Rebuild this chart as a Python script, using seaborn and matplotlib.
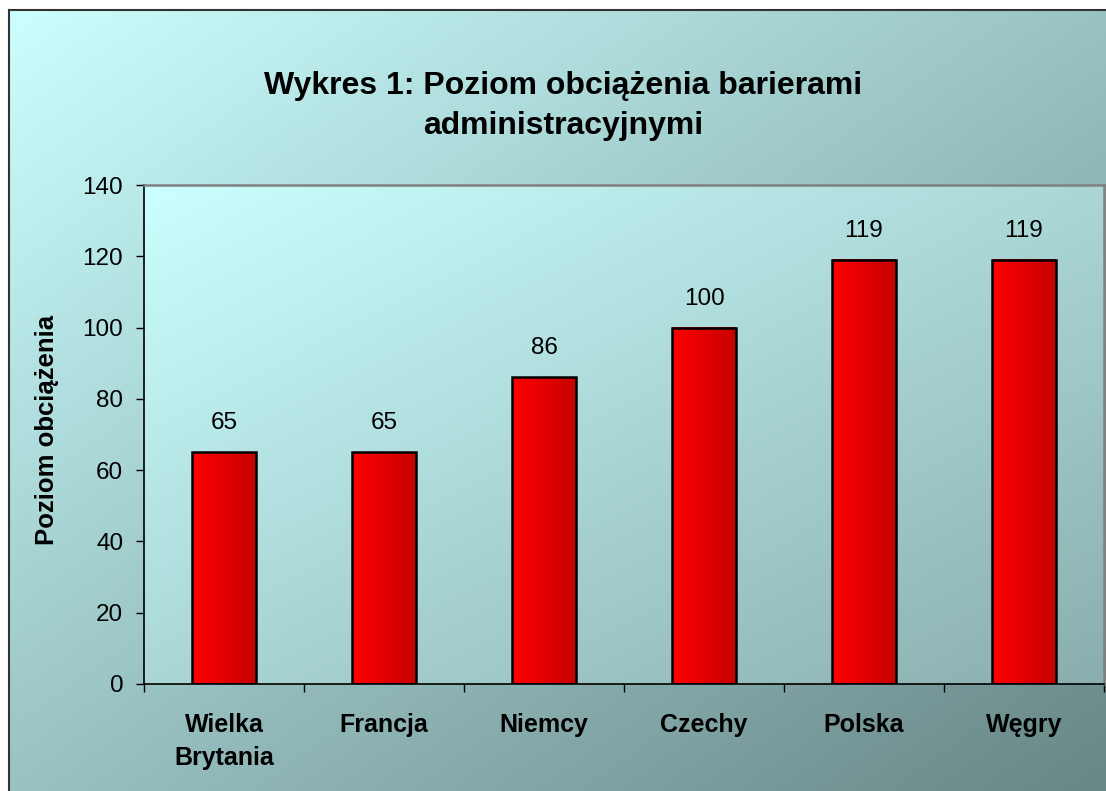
import numpy as np
import matplotlib.pyplot as plt
import seaborn as sns
from matplotlib.lines import Line2D

# data
kraje = ['Wielka\nBrytania', 'Francja', 'Niemcy', 'Czechy', 'Polska', 'Węgry']
poziom = [65, 65, 86, 100, 119, 119]
yticks = [0, 20, 40, 60, 80, 100, 120, 140]

plt.rcParams['font.family'] = ['Liberation Sans', 'DejaVu Sans']

W, H = 1106, 791
fig = plt.figure(figsize=(W / 100, H / 100), dpi=100)


def gradient(h, w, c0, c1):
    # diagonal blend top-left -> bottom-right
    yy, xx = np.mgrid[0:h, 0:w]
    t = (xx / (w - 1) + yy / (h - 1)) / 2
    c0 = np.array(c0) / 255
    c1 = np.array(c1) / 255
    return c0 + t[..., None] * (c1 - c0)


# chart area background (white margin top/left, frame runs off canvas)
bg = np.ones((H, W, 3))
bg[10:, 9:] = gradient(H - 10, W - 9, (204, 255, 255), (104, 134, 134))
bg_ax = fig.add_axes([0, 0, 1, 1], zorder=0)
bg_ax.imshow(bg, aspect='auto', interpolation='bilinear')
bg_ax.axis('off')
fig.add_artist(Line2D([9 / W, 9 / W], [0, 1 - 10 / H], color='#333333', lw=1.5, zorder=1))
fig.add_artist(Line2D([9 / W, 1], [1 - 10 / H, 1 - 10 / H], color='#333333', lw=1.5, zorder=1))

rect = [144 / W, 1 - 684 / H, 960 / W, 499 / H]

# plot area background
pa = fig.add_axes(rect, zorder=1)
pa.imshow(gradient(200, 300, (204, 255, 255), (138, 174, 174)), aspect='auto',
          extent=[0, 1, 0, 1], interpolation='bilinear')
pa.axis('off')

ax = fig.add_axes(rect, zorder=2)
ax.set_facecolor('none')
sns.barplot(x=kraje, y=poziom, color='red', saturation=1, width=0.4,
            edgecolor='black', linewidth=1.8, ax=ax)

# horizontal red gradient on each bar
bar_grad = np.zeros((2, 64, 3))
bar_grad[..., 0] = np.linspace(1.0, 0.78, 64)[None, :]
for p in ax.patches:
    x0, w, h = p.get_x(), p.get_width(), p.get_height()
    ax.imshow(bar_grad, extent=[x0, x0 + w, 0, h], aspect='auto',
              interpolation='bilinear', zorder=1.5)
    p.set_facecolor('none')
    p.set_zorder(2)

ax.bar_label(ax.containers[0], labels=[str(v) for v in poziom], padding=13, fontsize=17.5)

ax.set_xlim(-0.5, 5.5)
ax.set_ylim(0, 140)
ax.set_yticks(yticks)
ax.set_xlabel('')
ax.set_ylabel('')

for s in ['left', 'bottom']:
    ax.spines[s].set_color('black')
    ax.spines[s].set_linewidth(1.2)
for s in ['top', 'right']:
    ax.spines[s].set_color('#808080')
    ax.spines[s].set_linewidth(1.8)

ax.tick_params(axis='y', length=6, width=1, pad=9, labelsize=17.5)
ax.set_xticks(np.arange(-0.5, 6, 1), minor=True)
ax.tick_params(axis='x', which='major', length=0, pad=21, labelsize=18)
ax.tick_params(axis='x', which='minor', length=6, width=1)
for lab in ax.get_xticklabels():
    lab.set_fontweight('bold')
    lab.set_linespacing(1.45)
    lab.set_va('top')

fig.text(47 / W, 1 - 430 / H, 'Poziom obciążenia', rotation=90, ha='center', va='center',
         fontsize=18.5, fontweight='bold')
fig.text(563 / W, 1 - 106 / H, 'Wykres 1: Poziom obciążenia barierami\nadministracyjnymi',
         ha='center', va='center', fontsize=23, fontweight='bold', linespacing=1.4)

fig.savefig('out.png', dpi=100)
